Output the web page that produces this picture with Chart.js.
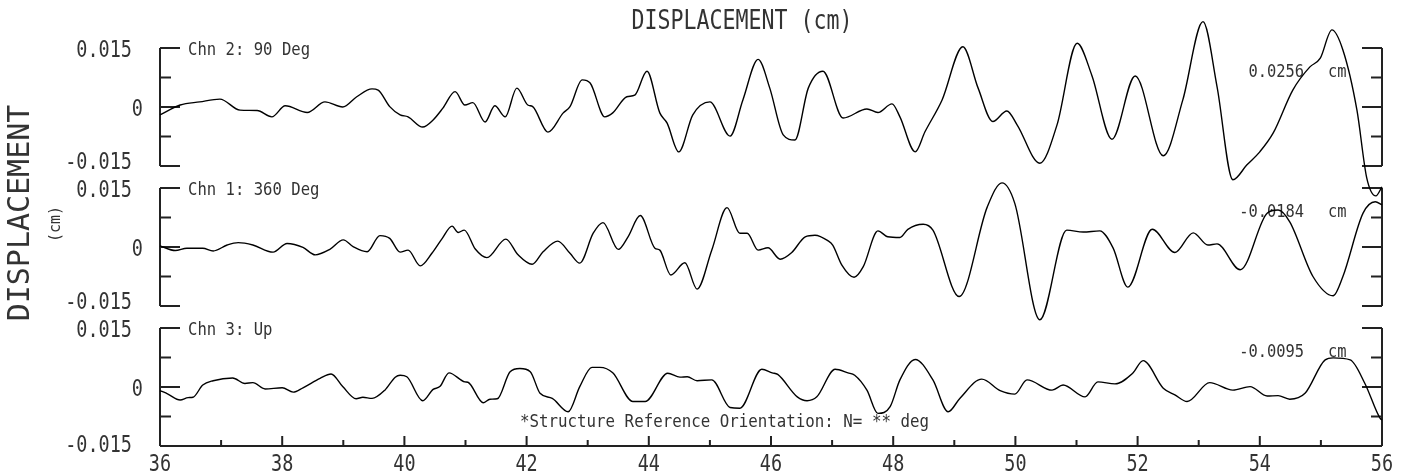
<!DOCTYPE html>
<html>
<head>
<meta charset="utf-8">
<script src="https://cdn.jsdelivr.net/npm/chart.js@4/dist/chart.umd.min.js"></script>
<style>
  html, body { margin: 0; padding: 0; background: #fff; }
  #wrap { width: 1404px; height: 476px; }
</style>
</head>
<body>
<div id="wrap"><canvas id="disp" width="1404" height="476"></canvas></div>
<script>
// Chart data ----- START
// Chn 2: 90 Deg (top trace), time in s, displacement in cm
const ch2Time = [36.00,36.33,36.65,36.98,37.31,37.59,37.83,38.05,38.41,38.70,38.99,39.22,39.47,39.57,39.76,39.93,40.06,40.30,40.47,40.63,40.83,40.99,41.12,41.32,41.48,41.65,41.84,42.02,42.10,42.35,42.60,42.71,42.91,43.04,43.28,43.41,43.64,43.77,43.97,44.18,44.30,44.49,44.72,45.00,45.33,45.54,45.79,45.98,46.20,46.39,46.61,46.85,47.18,47.57,47.75,47.98,48.11,48.36,48.52,48.80,49.14,49.39,49.63,49.86,50.03,50.40,50.68,51.01,51.25,51.58,51.96,52.42,52.74,53.07,53.30,53.56,53.79,54.00,54.22,54.54,54.82,54.99,55.18,55.36,55.59,55.75,55.90,56.00];
const ch2Disp = [-0.0020,0.0005,0.0013,0.0020,-0.0008,-0.0009,-0.0025,0.0003,-0.0014,0.0013,0.0000,0.0026,0.0046,0.0043,0.0001,-0.0020,-0.0025,-0.0051,-0.0033,-0.0003,0.0039,0.0005,0.0011,-0.0038,0.0003,-0.0025,0.0048,0.0005,0.0001,-0.0064,-0.0015,0.0001,0.0069,0.0061,-0.0025,-0.0015,0.0026,0.0030,0.0091,-0.0015,-0.0041,-0.0114,-0.0020,0.0013,-0.0074,0.0018,0.0121,0.0048,-0.0071,-0.0084,0.0048,0.0091,-0.0028,-0.0005,-0.0014,0.0008,-0.0025,-0.0114,-0.0063,0.0018,0.0153,0.0048,-0.0037,-0.0010,-0.0046,-0.0143,-0.0046,0.0162,0.0081,-0.0082,0.0079,-0.0124,0.0018,0.0217,0.0052,-0.0185,-0.0147,-0.0114,-0.0066,0.0043,0.0102,0.0124,0.0196,0.0145,-0.0008,-0.0180,-0.0226,-0.0203];

// Chn 1: 360 Deg (middle trace)
const ch1Time = [36.00,36.25,36.44,36.70,36.87,37.10,37.28,37.52,37.85,38.08,38.34,38.54,38.78,39.00,39.16,39.39,39.60,39.76,39.93,40.06,40.26,40.45,40.62,40.78,40.88,40.98,41.16,41.35,41.66,41.86,42.09,42.27,42.51,42.71,42.87,43.09,43.25,43.50,43.66,43.86,44.10,44.18,44.36,44.59,44.79,45.03,45.28,45.49,45.61,45.79,45.95,46.15,46.34,46.56,46.72,46.93,47.01,47.16,47.36,47.51,47.75,47.91,48.11,48.24,48.49,48.65,49.08,49.54,49.78,49.99,50.40,50.84,51.11,51.38,51.60,51.84,52.24,52.61,52.91,53.15,53.30,53.68,54.12,54.30,54.49,54.87,55.20,55.36,55.69,55.89,56.00];
const ch1Disp = [0.0003,-0.0009,-0.0003,-0.0003,-0.0010,0.0005,0.0011,0.0005,-0.0013,0.0009,-0.0001,-0.0020,-0.0006,0.0018,0.0001,-0.0012,0.0029,0.0022,-0.0013,-0.0008,-0.0048,-0.0016,0.0022,0.0053,0.0037,0.0043,-0.0005,-0.0027,0.0020,-0.0020,-0.0044,-0.0012,0.0015,-0.0016,-0.0041,0.0035,0.0062,-0.0006,0.0026,0.0080,-0.0003,-0.0008,-0.0071,-0.0040,-0.0107,-0.0008,0.0100,0.0035,0.0035,-0.0008,-0.0002,-0.0031,-0.0014,0.0026,0.0030,0.0016,0.0005,-0.0046,-0.0077,-0.0050,0.0041,0.0026,0.0024,0.0045,0.0058,0.0043,-0.0126,0.0102,0.0163,0.0111,-0.0185,0.0043,0.0038,0.0041,-0.0003,-0.0102,0.0045,-0.0014,0.0036,0.0005,0.0008,-0.0058,0.0086,0.0094,0.0064,-0.0075,-0.0124,-0.0075,0.0086,0.0115,0.0107];

// Chn 3: Up (bottom trace)
const ch3Time = [36.00,36.13,36.33,36.46,36.54,36.70,36.87,37.19,37.39,37.52,37.72,38.00,38.18,38.34,38.62,38.80,38.99,39.21,39.32,39.47,39.68,39.85,39.93,40.04,40.30,40.47,40.58,40.73,40.99,41.04,41.29,41.40,41.52,41.73,41.89,42.06,42.22,42.42,42.68,42.87,43.07,43.20,43.41,43.74,43.94,44.31,44.51,44.63,44.79,45.03,45.33,45.49,45.85,46.02,46.11,46.43,46.59,46.75,47.05,47.26,47.37,47.57,47.75,47.95,48.11,48.36,48.65,48.90,49.09,49.45,49.75,49.99,50.19,50.60,50.78,51.14,51.35,51.63,51.92,52.09,52.42,52.61,52.81,53.18,53.56,53.84,54.12,54.30,54.49,54.74,55.07,55.20,55.48,55.72,55.97,56.00];
const ch3Disp = [-0.0009,-0.0018,-0.0033,-0.0027,-0.0026,0.0005,0.0016,0.0023,0.0009,0.0011,-0.0005,-0.0002,-0.0013,-0.0002,0.0022,0.0033,0.0001,-0.0030,-0.0026,-0.0029,-0.0008,0.0025,0.0030,0.0026,-0.0035,-0.0006,0.0001,0.0036,0.0013,0.0012,-0.0040,-0.0031,-0.0030,0.0039,0.0047,0.0039,-0.0016,-0.0029,-0.0063,0.0001,0.0050,0.0050,0.0036,-0.0037,-0.0037,0.0035,0.0025,0.0026,0.0016,0.0018,-0.0052,-0.0054,0.0045,0.0036,0.0032,-0.0025,-0.0035,-0.0025,0.0045,0.0036,0.0030,-0.0008,-0.0067,-0.0050,0.0018,0.0070,0.0018,-0.0063,-0.0029,0.0020,-0.0009,-0.0018,0.0018,-0.0008,0.0005,-0.0025,0.0013,0.0008,0.0035,0.0067,-0.0003,-0.0020,-0.0037,0.0011,-0.0008,0.0001,-0.0023,-0.0022,-0.0031,-0.0016,0.0069,0.0074,0.0069,0.0009,-0.0080,-0.0084];

const channelNames = ['Chn 2: 90 Deg', 'Chn 1: 360 Deg', 'Chn 3: Up'];
const peakValues = ['0.0256', '-0.0184', '-0.0095'];
const yTickValues = [0.015, 0, -0.015];
const yTickLabels = ['0.015', '0', '-0.015'];
const yMinorTicks = [0.0075, -0.0075];
const xTickValues = [36, 38, 40, 42, 44, 46, 48, 50, 52, 54, 56];
const xMinorTicks = [37, 39, 41, 43, 45, 47, 49, 51, 53, 55];
const chartTitle = 'DISPLACEMENT (cm)';
const footNote = '*Structure Reference Orientation: N= ** deg';
// Chart data ----- END

// Panel layout: three stacked bands sharing one chart area
const AREA_TOP = 48, AREA_BOTTOM = 446, PANEL_H = 118, PANEL_PITCH = 140;
const unitsPerPx = 0.03 / PANEL_H;
function panelRange(i) {
    const max = 0.015 + i * PANEL_PITCH * unitsPerPx;
    return { min: max - (AREA_BOTTOM - AREA_TOP) * unitsPerPx, max: max };
}

function toPoints(t, v) {
    return t.map((x, i) => ({ x: x, y: v[i] }));
}

// stretched monospace text, like the plotter font
function plotText(ctx, text, x, y, size, stretch, align) {
    ctx.save();
    ctx.translate(x, y);
    ctx.scale(1, stretch);
    ctx.font = size + 'px "DejaVu Sans Mono"';
    ctx.textAlign = align;
    ctx.textBaseline = 'middle';
    ctx.fillStyle = '#333';
    ctx.fillText(text, 0, 0);
    ctx.restore();
}

const frame = {
    id: 'frame',
    beforeDatasetsDraw(chart) {
        const ctx = chart.ctx;
        const xs = chart.scales.x;
        const L = xs.getPixelForValue(36), R = xs.getPixelForValue(56);
        ctx.save();
        ctx.strokeStyle = '#222';
        ctx.lineWidth = 2;
        ['y1', 'y2', 'y3'].forEach((id, i) => {
            const ys = chart.scales[id];
            const top = ys.getPixelForValue(0.015), bot = ys.getPixelForValue(-0.015);
            ctx.beginPath();
            ctx.moveTo(L, top); ctx.lineTo(L, bot);
            ctx.moveTo(R, top); ctx.lineTo(R, bot);
            yTickValues.forEach(v => {
                const p = ys.getPixelForValue(v);
                ctx.moveTo(L, p); ctx.lineTo(L + 20, p);
                ctx.moveTo(R - 20, p); ctx.lineTo(R, p);
            });
            yMinorTicks.forEach(v => {
                const p = ys.getPixelForValue(v);
                ctx.moveTo(L, p); ctx.lineTo(L + 11, p);
                ctx.moveTo(R - 11, p); ctx.lineTo(R, p);
            });
            ctx.stroke();

            yTickValues.forEach((v, k) => {
                const p = ys.getPixelForValue(v);
                const dy = k === 2 ? (i === 2 ? 0 : -3) : 3;
                plotText(ctx, yTickLabels[k], v === 0 ? 143 : 132, p + dy, 18.5, 1.2, 'right');
            });
            plotText(ctx, channelNames[i], 188, top + 2, 15.6, 1.15, 'left');
            plotText(ctx, peakValues[i], 1304, top + 24, 15.4, 1.15, 'right');
            plotText(ctx, 'cm', 1328, top + 24, 15.4, 1.15, 'left');
        });

        // time axis along the bottom band
        const ys3 = chart.scales.y3;
        const base = ys3.getPixelForValue(-0.015);
        ctx.beginPath();
        ctx.moveTo(L, base); ctx.lineTo(R, base);
        xTickValues.forEach(v => {
            const p = xs.getPixelForValue(v);
            ctx.moveTo(p, base); ctx.lineTo(p, base - 10);
        });
        xMinorTicks.forEach(v => {
            const p = xs.getPixelForValue(v);
            ctx.moveTo(p, base); ctx.lineTo(p, base - 6);
        });
        ctx.stroke();
        xTickValues.forEach(v => {
            plotText(ctx, String(v), xs.getPixelForValue(v), base + 19, 18.5, 1.25, 'center');
        });

        plotText(ctx, chartTitle, 742, 22, 21.6, 1.2, 'center');
        plotText(ctx, footNote, 520, 422, 15.8, 1.15, 'left');

        // rotated y title
        ctx.save();
        ctx.translate(21, 213);
        ctx.rotate(-Math.PI / 2);
        ctx.font = '30px "DejaVu Sans Mono"';
        ctx.textAlign = 'center';
        ctx.textBaseline = 'middle';
        ctx.fillStyle = '#333';
        ctx.fillText('DISPLACEMENT', 0, 0);
        ctx.font = '15px "DejaVu Sans Mono"';
        ctx.translate(-11, 35);
        ctx.fillText('(cm)', 0, 0);
        ctx.restore();
        ctx.restore();
    }
};

function traceStyle(points, axis) {
    return {
        data: points,
        yAxisID: axis,
        borderColor: '#000',
        borderWidth: 1.4,
        pointRadius: 0,
        fill: false,
        cubicInterpolationMode: 'monotone',
        clip: false
    };
}

const r1 = panelRange(0), r2 = panelRange(1), r3 = panelRange(2);
const dispChart = new Chart(document.getElementById('disp').getContext('2d'), {
    type: 'line',
    data: {
        datasets: [
            traceStyle(toPoints(ch2Time, ch2Disp), 'y1'),
            traceStyle(toPoints(ch1Time, ch1Disp), 'y2'),
            traceStyle(toPoints(ch3Time, ch3Disp), 'y3')
        ]
    },
    options: {
        responsive: false,
        animation: false,
        layout: { padding: { left: 160, right: 22, top: AREA_TOP, bottom: 476 - AREA_BOTTOM } },
        plugins: { legend: { display: false }, tooltip: { enabled: false } },
        scales: {
            x: { type: 'linear', min: 36, max: 56, display: false },
            y1: { type: 'linear', min: r1.min, max: r1.max, display: false },
            y2: { type: 'linear', min: r2.min, max: r2.max, display: false },
            y3: { type: 'linear', min: r3.min, max: r3.max, display: false }
        }
    },
    plugins: [frame]
});
</script>
</body>
</html>
